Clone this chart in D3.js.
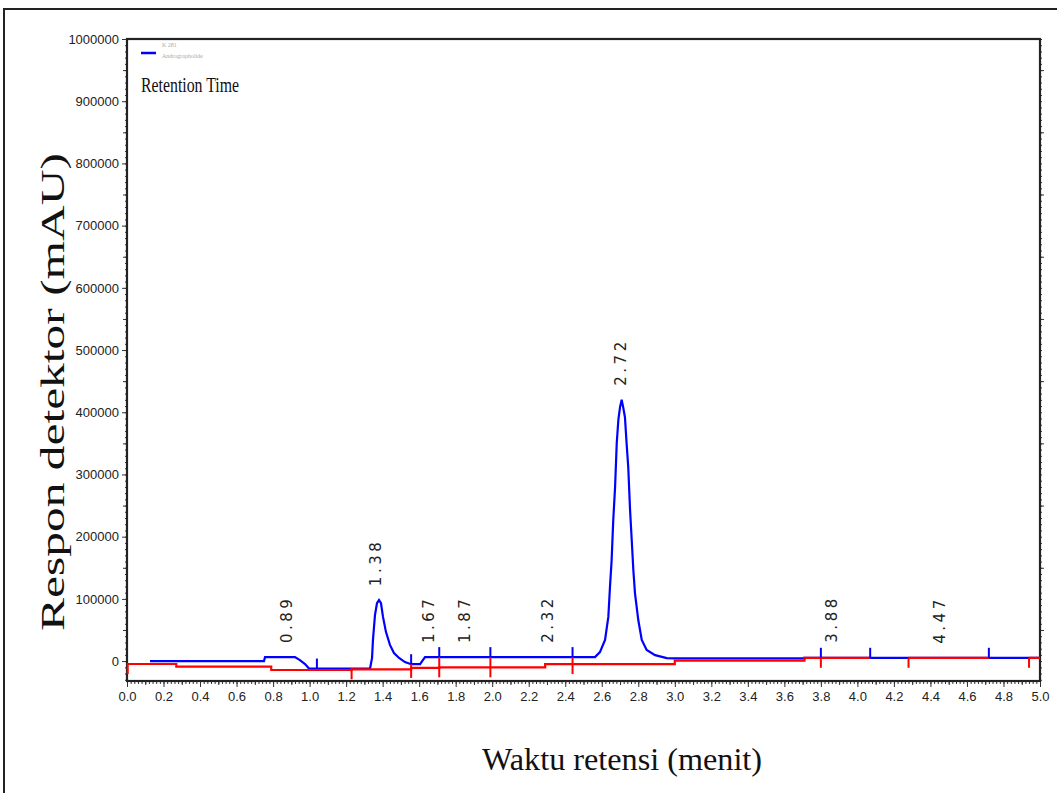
<!DOCTYPE html>
<html><head><meta charset="utf-8">
<script src="https://cdn.jsdelivr.net/npm/d3@7/dist/d3.min.js"></script>
<style>body{margin:0;background:#fff} svg{display:block}</style>
</head><body>
<svg id="chart" width="1057" height="793"></svg>
<script>
// ---------- data ----------
const xTickValues = [0.0,0.2,0.4,0.6,0.8,1.0,1.2,1.4,1.6,1.8,2.0,2.2,2.4,2.6,2.8,3.0,3.2,3.4,3.6,3.8,4.0,4.2,4.4,4.6,4.8,5.0];
const yTickValues = [0,100000,200000,300000,400000,500000,600000,700000,800000,900000,1000000];

// chromatogram (time in minutes, response in mAU)
const blueTrace = [
  [0.126,0],[0.750,0],[0.756,6400],[0.920,6400],[0.947,1600],[0.975,-4800],[0.997,-12000],
  [1.331,-12000],[1.342,5000],[1.347,34000],[1.358,74000],[1.369,93000],[1.380,98000],
  [1.391,93000],[1.402,71000],[1.418,47000],[1.440,26000],[1.462,13000],[1.490,5000],
  [1.522,-1600],[1.556,-5000],[1.605,-5000],[1.632,6400],[2.563,6400],[2.590,14500],
  [2.618,34000],[2.636,71000],[2.645,119000],[2.654,162000],[2.663,227000],[2.673,280000],
  [2.682,350000],[2.691,388000],[2.700,408000],[2.709,420000],[2.718,407000],[2.727,392000],
  [2.736,350000],[2.745,312000],[2.755,243000],[2.764,195000],[2.773,146000],[2.782,109000],
  [2.800,66000],[2.819,34000],[2.846,18000],[2.892,9600],[2.956,4800],[3.0,4300],
  [3.71,4300],[3.71,5300],[5.0,5300]
];

// integration baseline (step), null = gap
const redBaseline = [
  [0.0,-4700],[0.27,-9000],[0.79,-14300],[1.23,-13200],[1.556,-11000],[1.71,-10000],
  [2.29,-4800],[3.0,800],[3.71,5300],[4.07,5300],[4.07,null],[4.28,5300],[4.72,5300],
  [4.72,null],[4.94,5300],[5.0,5300]
];

const blueMarkTimes = [1.04,1.556,1.71,1.99,2.44,3.80,4.07,4.72];
const redMarkTimes  = [0.004,1.23,1.556,1.71,1.99,2.44,3.80,4.28,4.94];

const peakTimes  = [0.89,1.38,1.67,1.87,2.32,2.72,3.88,4.47];
const peakLabels = ["0.89","1.38","1.67","1.87","2.32","2.72","3.88","4.47"];
const peakApex   = [6400,98000,6400,6400,7000,420000,7000,5300];

// ---------- layout ----------
const svg = d3.select("#chart");
const L = 127, R = 1040, T = 39, B = 681;
const x = d3.scaleLinear().domain([0,5]).range([L,R]);
const y = d3.scaleLinear().domain([-32000,1000000]).range([B,T]);

// outer frame
svg.append("rect").attr("x",4).attr("y",9).attr("width",1080).attr("height",820)
  .attr("fill","none").attr("stroke","#222").attr("stroke-width",2);

// minor ticks
const g = svg.append("g");
function addAxis(axis, tr){
  const a = g.append("g").attr("transform",tr).call(axis);
  a.select(".domain").remove();
  a.selectAll("line").attr("stroke","#333");
  return a;
}
const yMinor = d3.range(-30000,1000001,10000);
const yMid = d3.range(50000,1000001,100000);
addAxis(d3.axisLeft(y).tickValues(yMinor).tickSize(2).tickFormat(""), `translate(${L},0)`);
addAxis(d3.axisLeft(y).tickValues(yMid).tickSize(4).tickFormat(""), `translate(${L},0)`);
addAxis(d3.axisRight(y).tickValues(yMinor).tickSize(2).tickFormat(""), `translate(${R},0)`);
addAxis(d3.axisRight(y).tickValues(yMid).tickSize(4).tickFormat(""), `translate(${R},0)`);
const xMinor = d3.range(0,5.0001,0.02);
const xMid = d3.range(0.1,5,0.2);
addAxis(d3.axisBottom(x).tickValues(xMinor).tickSize(3).tickFormat(""), `translate(0,${B})`);
addAxis(d3.axisBottom(x).tickValues(xMid).tickSize(4).tickFormat(""), `translate(0,${B})`);

// major axes with labels
const tickFont = "'Liberation Sans Narrow','Arial Narrow','Liberation Sans',sans-serif";
const ya = addAxis(d3.axisLeft(y).tickValues(yTickValues).tickSize(5).tickPadding(3).tickFormat(d3.format("d")), `translate(${L},0)`);
ya.selectAll("text").attr("font-family",tickFont).attr("font-size",13).attr("fill","#222");
const xa = addAxis(d3.axisBottom(x).tickValues(xTickValues).tickSize(6).tickPadding(5).tickFormat(d3.format(".1f")), `translate(0,${B})`);
xa.selectAll("text").attr("font-family",tickFont).attr("font-size",13).attr("fill","#222");

// plot frame
svg.append("rect").attr("x",L).attr("y",T).attr("width",R-L).attr("height",B-T)
  .attr("fill","none").attr("stroke","#222").attr("stroke-width",2.2);

// traces
const plot = svg.append("g");
const blueLine = d3.line().x(d=>x(d[0])).y(d=>y(d[1]));
plot.append("path").datum(blueTrace).attr("d",blueLine)
  .attr("fill","none").attr("stroke","#0000ff").attr("stroke-width",2.2).attr("stroke-linejoin","miter");

const redLine = d3.line().defined(d=>d[1]!==null).x(d=>x(d[0])).y(d=>y(d[1])).curve(d3.curveStepAfter);
plot.append("path").datum(redBaseline).attr("d",redLine)
  .attr("fill","none").attr("stroke","#ff0000").attr("stroke-width",2.2);

function blueAt(t){
  if (t < blueTrace[0][0]) return null;
  const i = d3.bisector(d=>d[0]).right(blueTrace, t);
  if (i >= blueTrace.length) return blueTrace[blueTrace.length-1][1];
  const a = blueTrace[i-1], b = blueTrace[i];
  return a[1] + (b[1]-a[1]) * (t-a[0])/(b[0]-a[0] || 1);
}
function redAt(t){
  let v = null;
  for (const d of redBaseline){ if (d[0] <= t && d[1] !== null) v = d[1]; }
  return v;
}

// markers
blueMarkTimes.forEach(t=>{
  const yb = y(blueAt(t));
  plot.append("line").attr("x1",x(t)).attr("x2",x(t)).attr("y1",yb).attr("y2",yb-10)
    .attr("stroke","#0000ff").attr("stroke-width",2);
});
redMarkTimes.forEach(t=>{
  const bv = blueAt(t);
  const yr = y(redAt(t));
  const top = bv === null ? yr-1 : Math.min(y(bv), yr);
  plot.append("line").attr("x1",x(t)).attr("x2",x(t)).attr("y1",top).attr("y2",yr+10)
    .attr("stroke","#ff0000").attr("stroke-width",2);
});

// peak labels
peakTimes.forEach((t,i)=>{
  const px = x(t)+2, py = y(peakApex[i]) - 14;
  svg.append("text").attr("transform",`translate(${px},${py}) rotate(-90)`)
    .attr("font-family","'DejaVu Sans','Liberation Sans',sans-serif").attr("font-size",15)
    .attr("textLength",44).attr("lengthAdjust","spacing")
    .attr("fill","#222").text(peakLabels[i]);
});

// legend
svg.append("line").attr("x1",141).attr("x2",156).attr("y1",53).attr("y2",53)
  .attr("stroke","#0000ff").attr("stroke-width",2.5);
svg.append("text").attr("x",162).attr("y",47).attr("font-family","'Liberation Serif',serif")
  .attr("font-size",6).attr("fill","#aaa").text("K 281");
svg.append("text").attr("x",162).attr("y",58).attr("font-family","'Liberation Serif',serif")
  .attr("font-size",6).attr("fill","#aaa").text("Andrographolide");
svg.append("text").attr("x",141).attr("y",92).attr("font-family","'Liberation Serif',serif")
  .attr("font-size",21).attr("textLength",98).attr("lengthAdjust","spacingAndGlyphs")
  .attr("fill","#111").text("Retention Time");

// axis titles
svg.append("text").attr("transform","translate(64,392) rotate(-90)").attr("text-anchor","middle")
  .attr("font-family","'Liberation Serif',serif").attr("font-size",33)
  .attr("textLength",478).attr("lengthAdjust","spacingAndGlyphs")
  .attr("fill","#111").text("Respon detektor (mAU)");
svg.append("text").attr("x",622).attr("y",770).attr("text-anchor","middle")
  .attr("font-family","'Liberation Serif',serif").attr("font-size",32)
  .attr("textLength",280).attr("lengthAdjust","spacingAndGlyphs")
  .attr("fill","#111").text("Waktu retensi (menit)");
</script>
</body></html>
